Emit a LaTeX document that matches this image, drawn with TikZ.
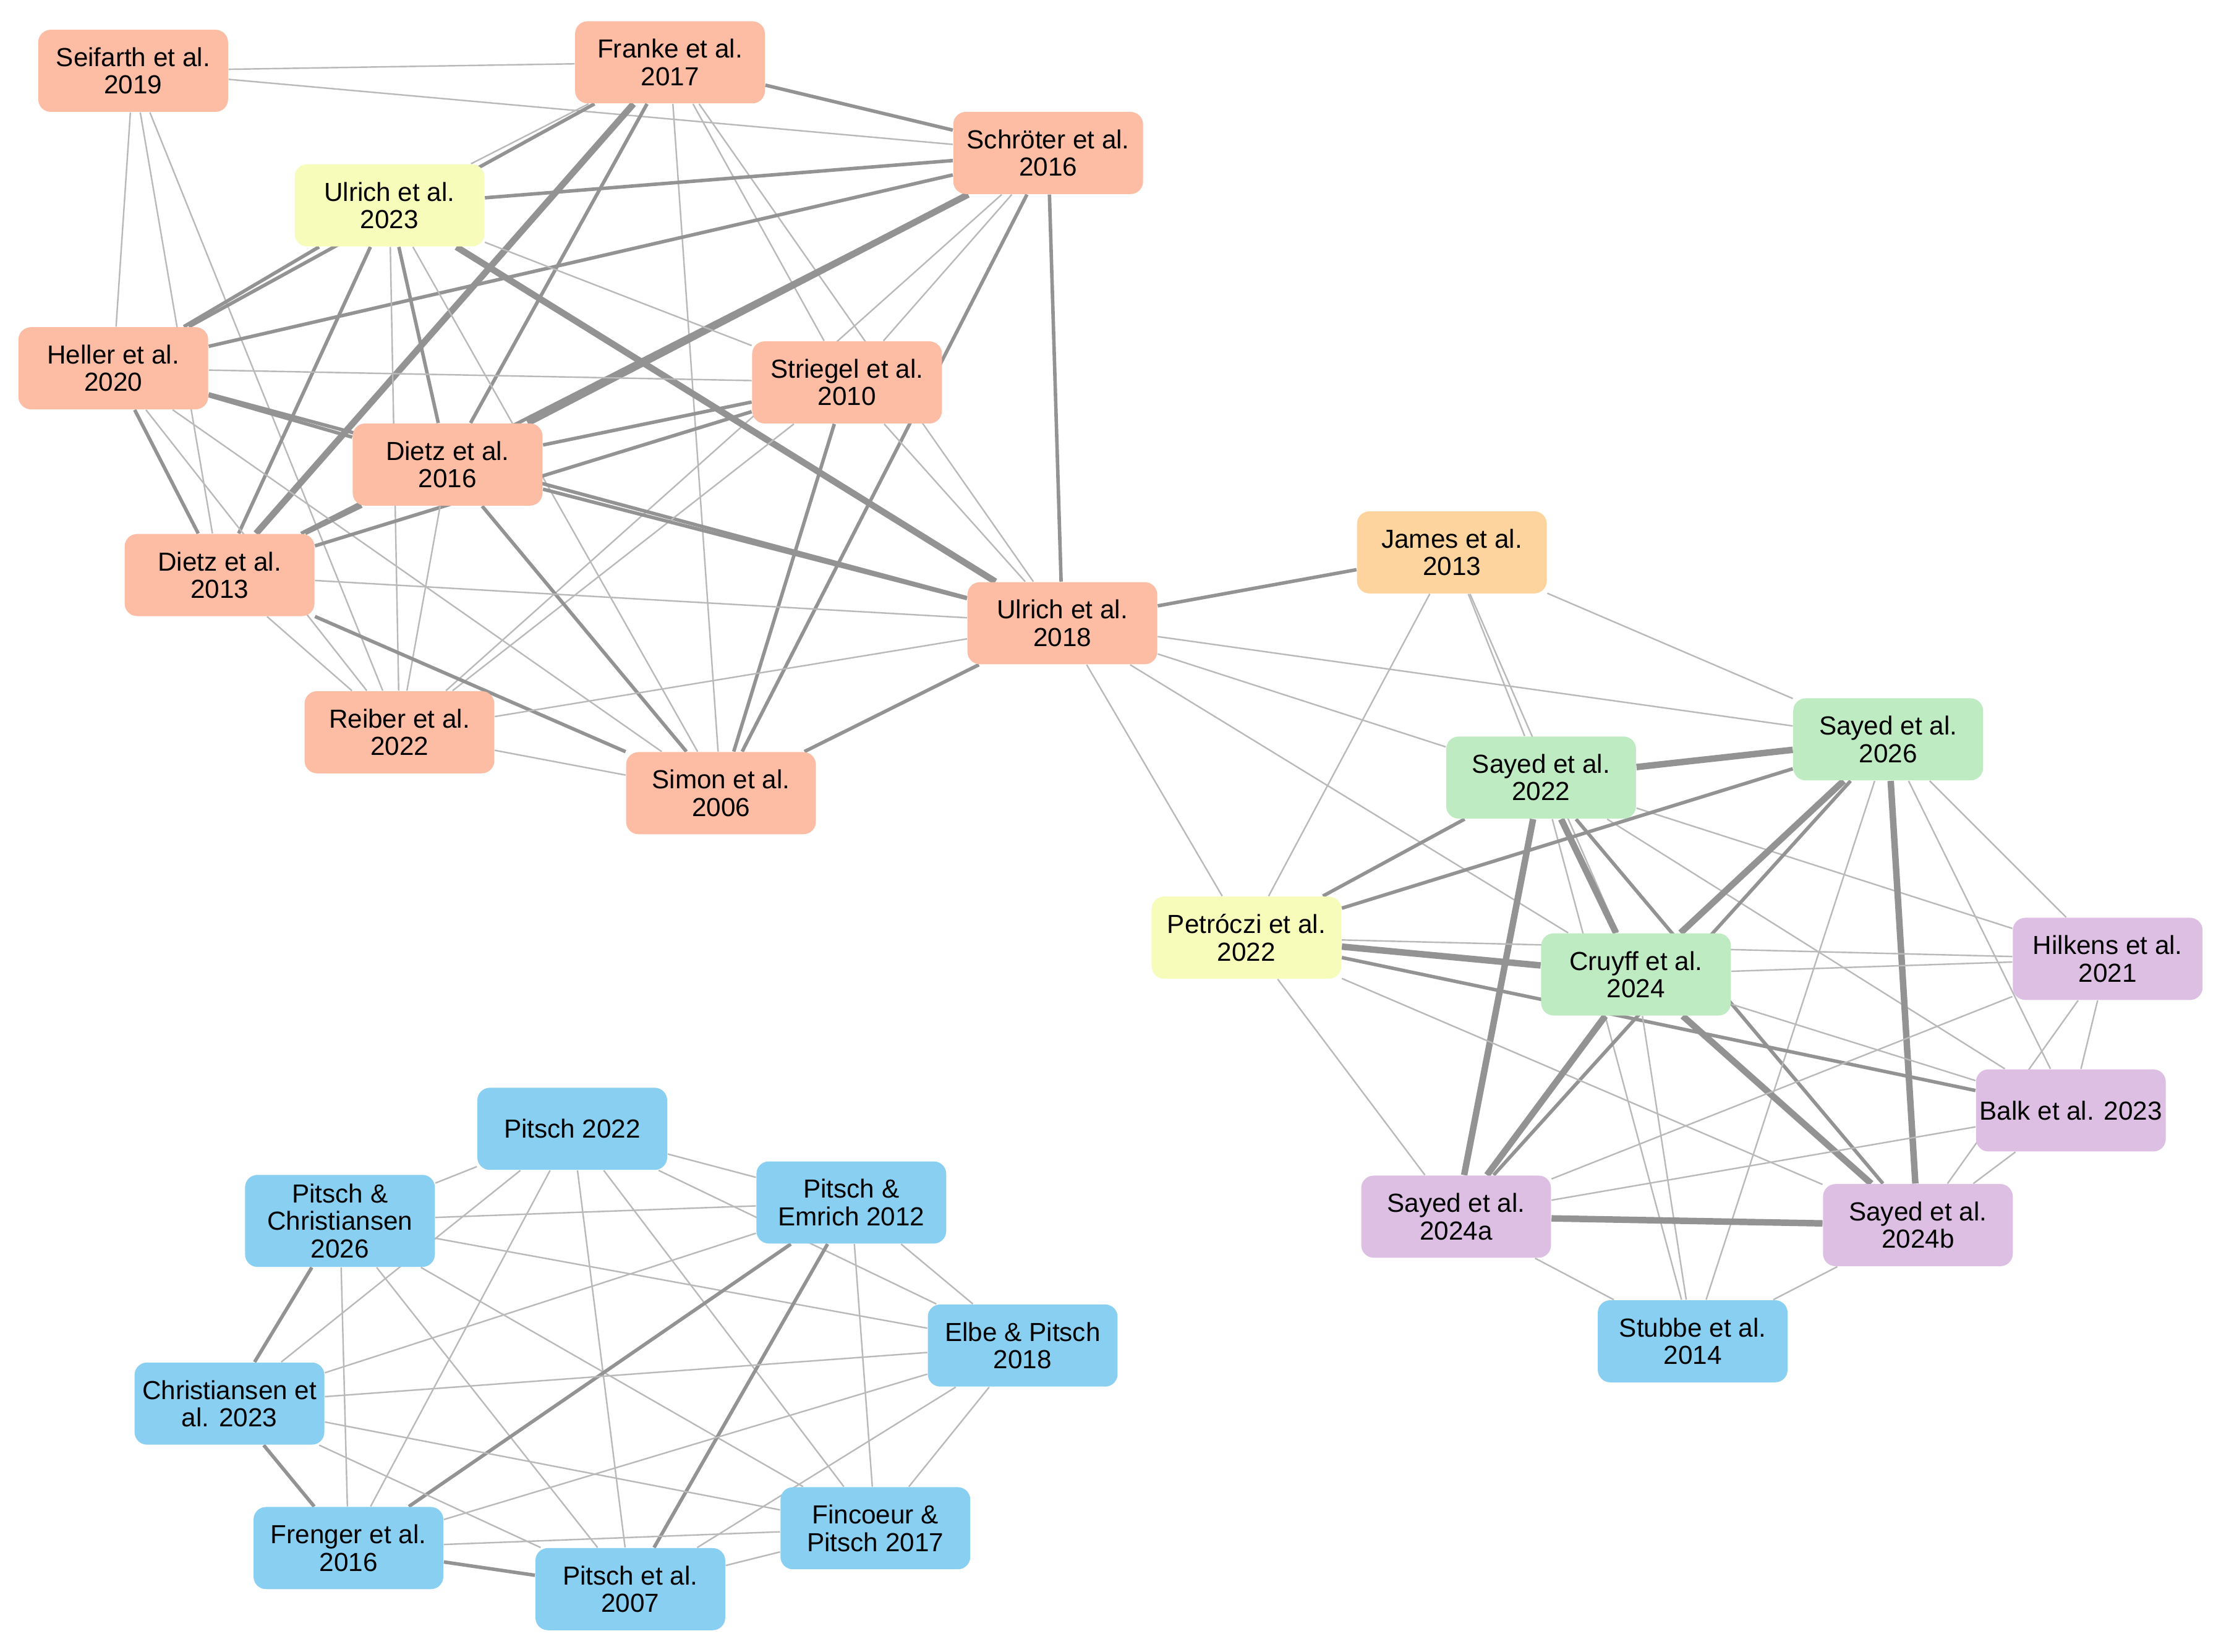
\documentclass[tikz,border=0pt]{standalone}
\usepackage{fontspec}
\setmainfont{Liberation Sans}
\usetikzlibrary{backgrounds}
\definecolor{cR}{HTML}{FDBCA4}
\definecolor{cY}{HTML}{F7FCBA}
\definecolor{cO}{HTML}{FDD49D}
\definecolor{cG}{HTML}{BFEBC2}
\definecolor{cP}{HTML}{DEBFE4}
\definecolor{cB}{HTML}{88CFF2}
\begin{document}
\begin{tikzpicture}[x=0.02cm,y=-0.02cm,
 nd/.style={rounded corners=5pt,minimum width=2.68cm,minimum height=1.16cm,align=center,inner sep=1pt,font=\fontsize{10.5}{11}\selectfont},
 R/.style={nd,fill=cR},Y/.style={nd,fill=cY},O/.style={nd,fill=cO},G/.style={nd,fill=cG},P/.style={nd,fill=cP},B/.style={nd,fill=cB},
 t/.style={draw=gray!55,line width=0.6pt},
 m/.style={draw=gray!85,line width=1.4pt},
 k/.style={draw=gray!85,line width=2.6pt}]
\useasboundingbox (0,0) rectangle (1568,1166);
\node[R] (S) at (94,50) {Seifarth et al.\\2019};
\node[R] (F) at (473,44) {Franke et al.\\2017};
\node[R] (Sc) at (740,108) {Schröter et al.\\2016};
\node[Y] (U23) at (275,145) {Ulrich et al.\\2023};
\node[R] (H) at (80,260) {Heller et al.\\2020};
\node[R] (St) at (598,270) {Striegel et al.\\2010};
\node[R] (D16) at (316,328) {Dietz et al.\\2016};
\node[R] (D13) at (155,406) {Dietz et al.\\2013};
\node[R] (U18) at (750,440) {Ulrich et al.\\2018};
\node[R] (Re) at (282,517) {Reiber et al.\\2022};
\node[R] (Si) at (509,560) {Simon et al.\\2006};
\node[O] (J) at (1025,390) {James et al.\\2013};
\node[G] (S26) at (1333,522) {Sayed et al.\\2026};
\node[G] (S22) at (1088,549) {Sayed et al.\\2022};
\node[Y] (Pe) at (880,662) {Petróczi et al.\\2022};
\node[G] (C) at (1155,688) {Cruyff et al.\\2024};
\node[P] (Hi) at (1488,677) {Hilkens et al.\\2021};
\node[P] (Ba) at (1462,784) {Balk et al. 2023};
\node[P] (Sa) at (1028,859) {Sayed et al.\\2024a};
\node[P] (Sb) at (1354,865) {Sayed et al.\\2024b};
\node[B] (Stu) at (1195,947) {Stubbe et al.\\2014};
\node[B] (P22) at (404,797) {Pitsch 2022};
\node[B,minimum height=1.3cm] (PC) at (240,862) {Pitsch \&\\Christiansen\\2026};
\node[B] (PE) at (601,849) {Pitsch \&\\Emrich 2012};
\node[B] (EP) at (722,950) {Elbe \& Pitsch\\2018};
\node[B] (CE) at (162,991) {Christiansen et\\al. 2023};
\node[B] (FP) at (618,1079) {Fincoeur \&\\Pitsch 2017};
\node[B] (Fr) at (246,1093) {Frenger et al.\\2016};
\node[B] (P07) at (445,1122) {Pitsch et al.\\2007};
\begin{scope}[on background layer]
\foreach \a/\b/\s in {S/F/t,S/Sc/t,S/H/t,S/D13/t,S/Re/t,
F/Sc/m,F/U23/t,F/H/m,F/D13/k,F/D16/m,F/St/t,F/Si/t,F/U18/t,
Sc/U23/m,Sc/H/m,Sc/D16/k,Sc/D13/m,Sc/St/t,Sc/U18/m,Sc/Si/m,Sc/Re/t,
U23/H/m,U23/D13/m,U23/D16/m,U23/St/t,U23/U18/k,U23/Si/t,U23/Re/t,
H/St/t,H/D16/m,H/D13/m,H/Re/t,H/Si/t,H/U18/m,
St/D16/m,St/D13/m,St/Si/m,St/U18/t,St/Re/t,
D16/D13/m,D16/U18/m,D16/Si/m,D16/Re/t,
D13/U18/t,D13/Si/m,D13/Re/t,
U18/Si/m,U18/Re/t,U18/J/m,U18/S26/t,U18/S22/t,U18/Pe/t,U18/C/t,
Re/Si/t,
J/S26/t,J/S22/t,J/Pe/t,J/C/t,
S22/S26/k,S22/Pe/m,S22/C/k,S22/Sa/k,S22/Sb/m,S22/Hi/t,S22/Ba/t,S22/Stu/t,
S26/Pe/m,S26/C/k,S26/Sa/m,S26/Sb/k,S26/Hi/t,S26/Ba/t,S26/Stu/t,
Pe/C/k,Pe/Hi/t,Pe/Ba/m,Pe/Sa/t,Pe/Sb/t,
C/Hi/t,C/Ba/t,C/Sa/k,C/Sb/k,C/Stu/t,
Hi/Ba/t,Hi/Sa/t,Hi/Sb/t,Ba/Sa/t,Ba/Sb/t,
Sa/Sb/k,Sa/Stu/t,Sb/Stu/t,
P22/PC/t,P22/PE/t,P22/CE/t,P22/Fr/t,P22/P07/t,P22/FP/t,P22/EP/t,
PC/PE/t,PC/CE/m,PC/EP/t,PC/P07/t,PC/Fr/t,PC/FP/t,
PE/Fr/m,PE/P07/m,PE/EP/t,PE/CE/t,PE/FP/t,
EP/CE/t,EP/Fr/t,EP/FP/t,EP/P07/t,
CE/Fr/m,CE/FP/t,CE/P07/t,FP/Fr/t,FP/P07/t,Fr/P07/m}
 {\draw[\s] (\a) -- (\b);}
\end{scope}
\end{tikzpicture}
\end{document}
